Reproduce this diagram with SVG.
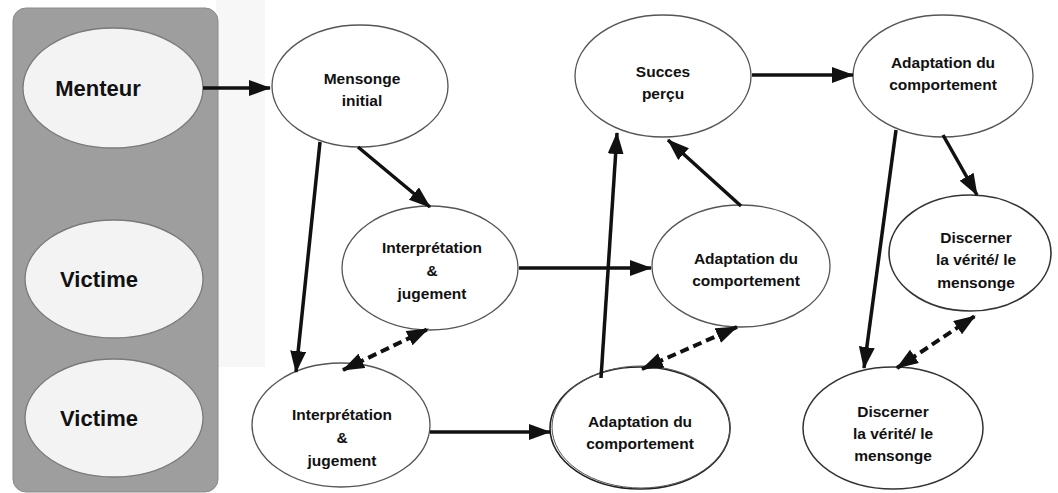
<svg xmlns="http://www.w3.org/2000/svg" width="1058" height="493" viewBox="0 0 1058 493">
<defs>
<marker id="ah" markerUnits="userSpaceOnUse" markerWidth="22" markerHeight="16" refX="21" refY="8" orient="auto-start-reverse" viewBox="0 0 22 16">
<path d="M0,0 L22,8 L0,16 z" fill="#111"/>
</marker>
<style>
.t{font-family:"Liberation Sans",Arial,sans-serif;font-weight:bold;fill:#111;text-anchor:middle}
.n{font-size:15.5px}
.p{font-size:22px}
.node{fill:#fff;stroke:#555;stroke-width:1.3}
.pe{fill:#f3f3f3;stroke:#7a7a7a;stroke-width:1.3}
.c{stroke:#111;stroke-width:3.5;fill:none}
.solid{marker-end:url(#ah)}
.dash{stroke-dasharray:9 5;stroke-width:4;marker-start:url(#ah);marker-end:url(#ah)}
</style>
</defs>
<rect width="1058" height="493" fill="#fff"/>
<rect x="216" y="0" width="49" height="367" fill="#f7f7f7"/>
<rect id="panel" x="13" y="8" width="205" height="484" rx="13" fill="#9e9e9e" stroke="#8a8a8a"/>
<g id="menteur"><ellipse class="pe" cx="113" cy="88" rx="90" ry="60"/><text class="t p" x="98" y="96">Menteur</text></g>
<g id="victime1"><ellipse class="pe" cx="114" cy="279" rx="89" ry="59"/><text class="t p" x="99" y="287">Victime</text></g>
<g id="victime2"><ellipse class="pe" cx="114" cy="418" rx="89" ry="59"/><text class="t p" x="99" y="426">Victime</text></g>

<g id="mensonge"><ellipse class="node" cx="360" cy="86" rx="88" ry="61"/><text class="t n" x="362" y="84">Mensonge</text><text class="t n" x="362" y="106">initial</text></g>
<g id="succes"><ellipse class="node" cx="663" cy="76" rx="88" ry="61"/><text class="t n" x="663" y="77">Succes</text><text class="t n" x="663" y="99">perçu</text></g>
<g id="adapt-top"><ellipse class="node" cx="943" cy="76" rx="90" ry="61"/><text class="t n" x="943" y="68">Adaptation du</text><text class="t n" x="943" y="90">comportement</text></g>
<g id="interp-mid"><ellipse class="node" cx="430" cy="268" rx="88" ry="62"/><text class="t n" x="432" y="253">Interprétation</text><text class="t n" x="432" y="276">&amp;</text><text class="t n" x="432" y="299">jugement</text></g>
<g id="adapt-mid"><ellipse class="node" cx="741" cy="266" rx="89" ry="61"/><text class="t n" x="746" y="264">Adaptation du</text><text class="t n" x="746" y="286">comportement</text></g>
<g id="discern-top"><ellipse class="node" cx="970" cy="253" rx="81" ry="58" style="stroke:#333;stroke-width:1.6"/><text class="t n" x="976" y="243">Discerner</text><text class="t n" x="976" y="265">la vérité/ le</text><text class="t n" x="976" y="288">mensonge</text></g>
<g id="interp-bot"><ellipse class="node" cx="341" cy="425" rx="89" ry="62"/><text class="t n" x="342" y="420">Interprétation</text><text class="t n" x="342" y="443">&amp;</text><text class="t n" x="342" y="466">jugement</text></g>
<g id="adapt-bot"><ellipse class="node" cx="640" cy="428" rx="90" ry="61" style="stroke:#222;stroke-width:1.6"/><ellipse cx="641" cy="427" rx="89" ry="61" fill="none" stroke="#555" stroke-width="1"/><text class="t n" x="640" y="427">Adaptation du</text><text class="t n" x="640" y="449">comportement</text></g>
<g id="discern-bot"><ellipse class="node" cx="893" cy="428" rx="90" ry="61" style="stroke:#333;stroke-width:1.5"/><text class="t n" x="893" y="417">Discerner</text><text class="t n" x="893" y="439">la vérité/ le</text><text class="t n" x="893" y="461">mensonge</text></g>

<g id="connectors">
<line class="c solid" x1="203" y1="88" x2="270" y2="88"/>
<line class="c solid" x1="752" y1="75" x2="853" y2="75"/>
<line class="c solid" x1="358" y1="147" x2="430" y2="207"/>
<line class="c solid" x1="320" y1="142" x2="296" y2="372"/>
<line class="c dash" x1="343" y1="370" x2="428" y2="329"/>
<line class="c solid" x1="430" y1="432" x2="550" y2="432"/>
<line class="c solid" x1="519" y1="268" x2="651" y2="268"/>
<line class="c solid" x1="601" y1="378" x2="617" y2="133"/>
<line class="c solid" x1="741" y1="206" x2="668" y2="140"/>
<line class="c dash" x1="642" y1="369" x2="737" y2="327"/>
<line class="c solid" x1="943" y1="135" x2="977" y2="195"/>
<line class="c solid" x1="896" y1="130" x2="864" y2="368"/>
<line class="c dash" x1="897" y1="368" x2="975" y2="316"/>
</g>
</svg>
